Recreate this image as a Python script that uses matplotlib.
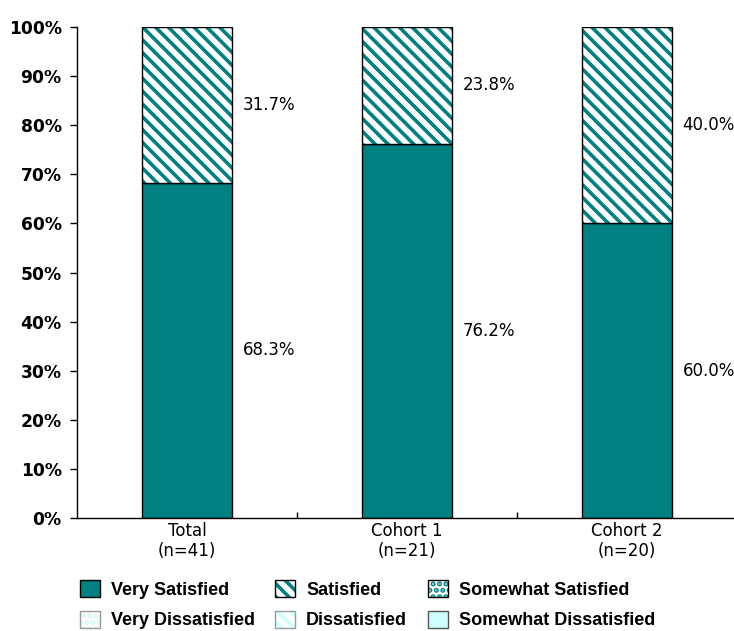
import matplotlib
matplotlib.use("Agg")
import matplotlib.pyplot as plt
from matplotlib.patches import Patch
import numpy as np

categories = ["Total\n(n=41)", "Cohort 1\n(n=21)", "Cohort 2\n(n=20)"]
very_satisfied = [68.3, 76.2, 60.0]
satisfied = [31.7, 23.8, 40.0]
yticks = [0, 10, 20, 30, 40, 50, 60, 70, 80, 90, 100]
legend_labels = ["Very Satisfied", "Satisfied", "Somewhat Satisfied",
                 "Very Dissatisfied", "Dissatisfied", "Somewhat Dissatisfied"]

TEAL = "#008080"
LCYAN = "#CCFFFF"
DPI = 77
S = 100 / DPI  # keep pixel sizes as if at dpi 100


def P(v):
    return v * S


plt.rcParams["hatch.linewidth"] = P(2.6)

W, H = 734, 631
fig = plt.figure(figsize=(W / DPI, H / DPI), dpi=DPI)
ax = fig.add_axes([77 / W, (H - 518) / H, (733 - 77) / W, (518 - 27) / H])

x = np.arange(len(categories))
bw = 0.405
ax.bar(x, very_satisfied, bw, color=TEAL, edgecolor="black", linewidth=P(1), zorder=2)
ax.bar(x, satisfied, bw, bottom=very_satisfied, color="white", edgecolor=TEAL,
       hatch="\\\\", linewidth=0, zorder=2)
ax.bar(x, satisfied, bw, bottom=very_satisfied, fill=False, edgecolor="black",
       linewidth=P(1), zorder=3)

for xi, v, s in zip(x, very_satisfied, satisfied):
    ax.text(xi + bw / 2 + 0.05, v / 2, f"{v:.1f}%", va="center", ha="left",
            fontsize=P(12), family="DejaVu Sans")
    ax.text(xi + bw / 2 + 0.05, v + s / 2, f"{s:.1f}%", va="center", ha="left",
            fontsize=P(12), family="DejaVu Sans")

ax.set_xlim(-0.5, -0.5 + (733 - 77) / 220)
ax.set_ylim(0, 100)
ax.set_yticks(yticks)
ax.set_yticklabels([f"{t}%" for t in yticks], fontsize=P(12.3), fontweight="bold",
                   family="DejaVu Sans")
ax.set_xticks(x)
ax.set_xticklabels(categories, fontsize=P(12), family="DejaVu Sans", linespacing=1.1)
ax.tick_params(axis="x", length=0, pad=P(3))
ax.tick_params(axis="y", length=P(5), width=P(1), direction="out", pad=P(6))
ax.set_xticks([0.5, 1.5], minor=True)
ax.tick_params(axis="x", which="minor", length=P(4), width=P(1), direction="in")
for sp in ["top", "right"]:
    ax.spines[sp].set_visible(False)
for sp in ["left", "bottom"]:
    ax.spines[sp].set_linewidth(P(1))

lw = P(1)
handles = [
    Patch(facecolor=TEAL, edgecolor="black", linewidth=lw),
    (Patch(facecolor="white", edgecolor="#d8f4f4", hatch="..", linewidth=0),
     Patch(fill=False, edgecolor="#999999", linewidth=lw)),
    (Patch(facecolor="white", edgecolor=TEAL, hatch="\\\\", linewidth=0),
     Patch(fill=False, edgecolor="black", linewidth=lw)),
    (Patch(facecolor="white", edgecolor=LCYAN, hatch="\\\\", linewidth=0),
     Patch(fill=False, edgecolor="#999999", linewidth=lw)),
    (Patch(facecolor="white", edgecolor=TEAL, hatch="..", linewidth=0),
     Patch(fill=False, edgecolor="black", linewidth=lw)),
    Patch(facecolor=LCYAN, edgecolor="#555555", linewidth=lw),
]
labels = [legend_labels[0], legend_labels[3], legend_labels[1], legend_labels[4],
          legend_labels[2], legend_labels[5]]
leg = fig.legend(handles, labels, ncol=3, loc="upper left",
                 bbox_to_anchor=(80 / W, 1 - 580 / H), frameon=False,
                 prop={"family": "Liberation Sans", "weight": "bold", "size": P(13)},
                 handlelength=1.1, handleheight=1.1, handletextpad=0.6,
                 columnspacing=1.15, labelspacing=0.65, borderaxespad=0,
                 borderpad=0)

fig.savefig("out.png", dpi=DPI)
